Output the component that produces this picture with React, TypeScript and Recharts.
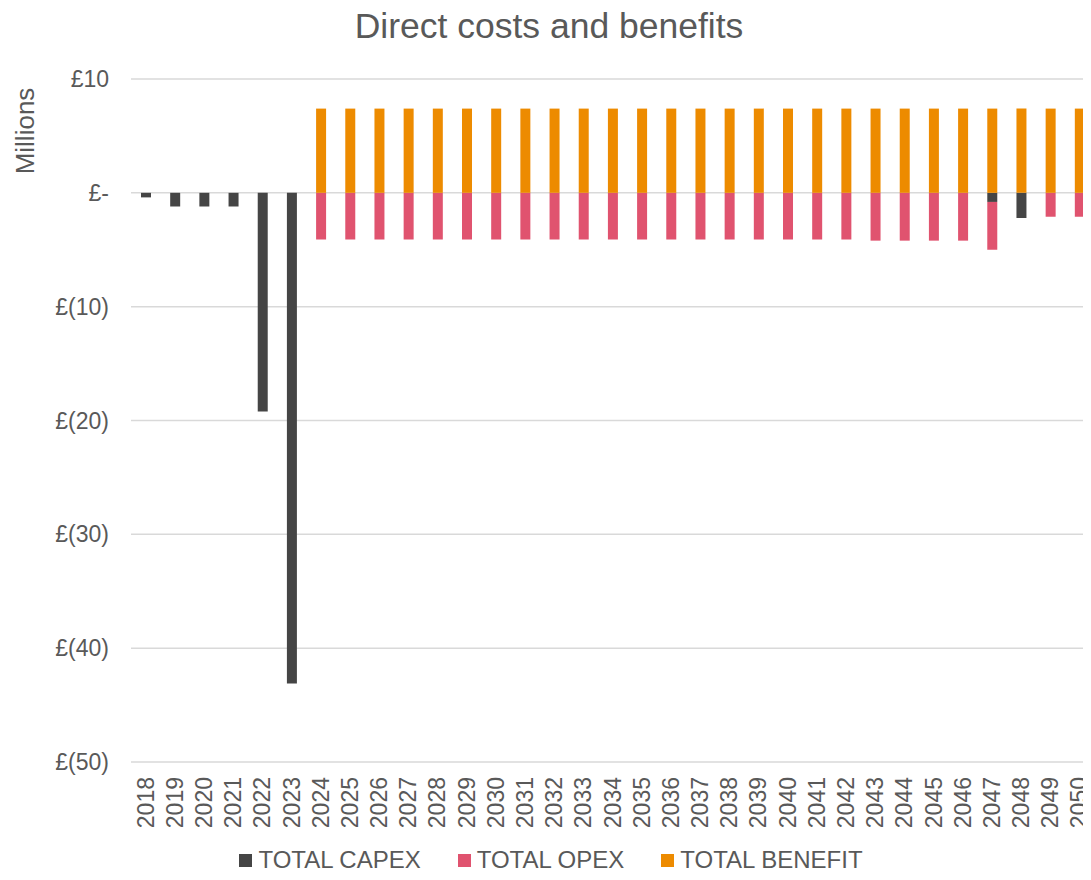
import { BarChart, Bar, XAxis, YAxis, CartesianGrid, Legend } from 'recharts';

const years = [
  '2018', '2019', '2020', '2021', '2022', '2023', '2024', '2025', '2026', '2027', '2028',
  '2029', '2030', '2031', '2032', '2033', '2034', '2035', '2036', '2037', '2038', '2039',
  '2040', '2041', '2042', '2043', '2044', '2045', '2046', '2047', '2048', '2049', '2050',
];

// £ millions
const capex = [
  -0.4, -1.2, -1.2, -1.2, -19.2, -43.1, 0, 0, 0, 0, 0,
  0, 0, 0, 0, 0, 0, 0, 0, 0, 0, 0,
  0, 0, 0, 0, 0, 0, 0, -0.8, -2.2, 0, 0,
];
const opex = [
  0, 0, 0, 0, 0, 0, -4.1, -4.1, -4.1, -4.1, -4.1,
  -4.1, -4.1, -4.1, -4.1, -4.1, -4.1, -4.1, -4.1, -4.1, -4.1, -4.1,
  -4.1, -4.1, -4.1, -4.2, -4.2, -4.2, -4.2, -4.2, 0, -2.1, -2.1,
];
const benefit = [
  0, 0, 0, 0, 0, 0, 7.4, 7.4, 7.4, 7.4, 7.4,
  7.4, 7.4, 7.4, 7.4, 7.4, 7.4, 7.4, 7.4, 7.4, 7.4, 7.4,
  7.4, 7.4, 7.4, 7.4, 7.4, 7.4, 7.4, 7.4, 7.4, 7.4, 7.4,
];
const yTicks = [-50, -40, -30, -20, -10, 0, 10];

const series = [
  { key: 'capex', name: 'TOTAL CAPEX', color: '#454545' },
  { key: 'opex', name: 'TOTAL OPEX', color: '#E0536F' },
  { key: 'benefit', name: 'TOTAL BENEFIT', color: '#ED8B00' },
];

const data = years.map((year, i) => ({
  year,
  capex: capex[i],
  opex: opex[i],
  benefit: benefit[i],
}));

const textColor = '#595959';
const font = '"Liberation Sans", Arial, sans-serif';

const formatMoney = (v: number) => (v === 0 ? '£-' : v < 0 ? `£(${-v})` : `£${v}`);

function YearTick(props: any) {
  const { x, y, payload } = props;
  return (
    <text
      transform={`translate(${x},${y + 15}) rotate(-90)`}
      textAnchor="end"
      dy="0.35em"
      fill={textColor}
      fontSize={23}
      fontFamily={font}
    >
      {payload.value}
    </text>
  );
}

function LegendContent() {
  return (
    <div
      style={{
        display: 'flex',
        justifyContent: 'center',
        gap: 37,
        fontSize: 24,
        lineHeight: 1,
        color: textColor,
        fontFamily: font,
        marginLeft: 8,
      }}
    >
      {series.map((s) => (
        <div key={s.key} style={{ display: 'flex', alignItems: 'center' }}>
          <span style={{ width: 13, height: 13, background: s.color, marginRight: 6 }} />
          <span>{s.name}</span>
        </div>
      ))}
    </div>
  );
}

export default function App() {
  return (
    <div
      style={{
        margin: -8,
        width: 1091,
        height: 880,
        overflow: 'hidden',
        position: 'relative',
        fontFamily: font,
        background: '#fff',
      }}
    >
      <div
        style={{
          position: 'absolute',
          top: 8,
          left: 0,
          width: 1098,
          textAlign: 'center',
          fontSize: 35.5,
          lineHeight: '36px',
          color: textColor,
        }}
      >
        Direct costs and benefits
      </div>
      <div
        style={{
          position: 'absolute',
          left: 25,
          top: 131,
          transform: 'translate(-50%, -50%) rotate(-90deg)',
          fontSize: 26,
          color: textColor,
          whiteSpace: 'nowrap',
        }}
      >
        Millions
      </div>
      <BarChart
        width={1100}
        height={880}
        data={data}
        stackOffset="sign"
        barSize={10}
        margin={{ top: 79, right: 6, bottom: 12, left: 0 }}
      >
        <CartesianGrid vertical={false} stroke="#d9d9d9" strokeWidth={1.5} />
        <XAxis
          dataKey="year"
          axisLine={false}
          tickLine={false}
          tickSize={0}
          tickMargin={0}
          interval={0}
          height={82}
          tick={<YearTick />}
        />
        <YAxis
          type="number"
          domain={[-50, 10]}
          ticks={yTicks}
          tickFormatter={formatMoney}
          axisLine={false}
          tickLine={false}
          tickSize={0}
          tickMargin={22}
          width={131}
          tick={{ fill: textColor, fontSize: 23, fontFamily: font }}
        />
        <Legend
          verticalAlign="bottom"
          height={24}
          wrapperStyle={{ top: 848, bottom: 'auto', height: 24 }}
          content={<LegendContent />}
        />
        {series.map((s) => (
          <Bar
            key={s.key}
            dataKey={s.key}
            name={s.name}
            stackId="a"
            fill={s.color}
            isAnimationActive={false}
          />
        ))}
      </BarChart>
    </div>
  );
}
